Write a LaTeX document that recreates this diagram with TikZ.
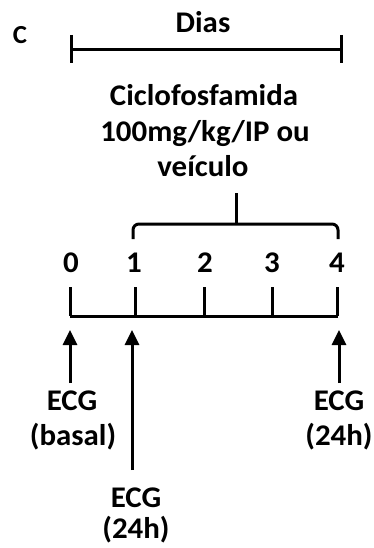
\documentclass[tikz,border=0pt]{standalone}
\usepackage{fontspec}
\setmainfont{Carlito}[FakeStretch=1.03]
\usetikzlibrary{arrows.meta}
\begin{document}
\begin{tikzpicture}[x=1pt,y=-1pt,
  lbl/.style={font=\fontsize{30}{36}\selectfont\bfseries, inner sep=0pt, anchor=base},
  thick line/.style={line width=3pt},
  uparrow/.style={line width=3pt, -{Triangle[width=14pt,length=15pt]}}]
\useasboundingbox (0,0) rectangle (373,548);
% panel letter
\node[lbl, font=\fontsize{26}{30}\selectfont\bfseries] (C) at (20,44) {C};
% top bar
\node[lbl] (dias) at (203,33) {Dias};
\coordinate (tl) at (71,50);
\coordinate (tr) at (341,50);
\draw[thick line] (tl) -- (tr);
\draw[thick line] (71,35) -- (71,63);
\draw[thick line] (341,35) -- (341,63);
% drug text
\node[lbl] (drug1) at (204,106) {Ciclofosfamida};
\node[lbl] (drug2) at (205,142) {100mg/kg/IP ou};
\node[lbl] (drug3) at (203,176) {veículo};
% brace
\coordinate (bs) at (236,193);
\coordinate (bm) at (236,224);
\draw[thick line, rounded corners=6pt] (133,239) -- (133,224) -- (338,224) -- (338,239);
\draw[thick line] (bs) -- (bm);
% day numbers
\node[lbl] (d0) at (71,272) {0};
\node[lbl] (d1) at (134,272) {1};
\node[lbl] (d2) at (205,272) {2};
\node[lbl] (d3) at (272,272) {3};
\node[lbl] (d4) at (337,272) {4};
% timeline
\coordinate (t0) at (70,316);
\coordinate (t4) at (338,316);
\draw[thick line] (t0) -- (t4);
\foreach \x in {70,135,204,272,337} \draw[thick line] (\x,287) -- (\x,316);
% ECG labels
\node[lbl] (e0a) at (72,410) {ECG};
\node[lbl] (e0b) at (73,445) {(basal)};
\node[lbl] (e1a) at (136,507) {ECG};
\node[lbl] (e1b) at (136,538) {(24h)};
\node[lbl] (e4a) at (339,410) {ECG};
\node[lbl] (e4b) at (339,445) {(24h)};
% arrows
\coordinate (a0s) at (70,383);
\coordinate (a0t) at (70,330);
\coordinate (a1s) at (132,470);
\coordinate (a1t) at (132,330);
\coordinate (a4s) at (339,383);
\coordinate (a4t) at (339,330);
\draw[uparrow] (a0s) -- (a0t);
\draw[uparrow] (a1s) -- (a1t);
\draw[uparrow] (a4s) -- (a4t);
\end{tikzpicture}
\end{document}
